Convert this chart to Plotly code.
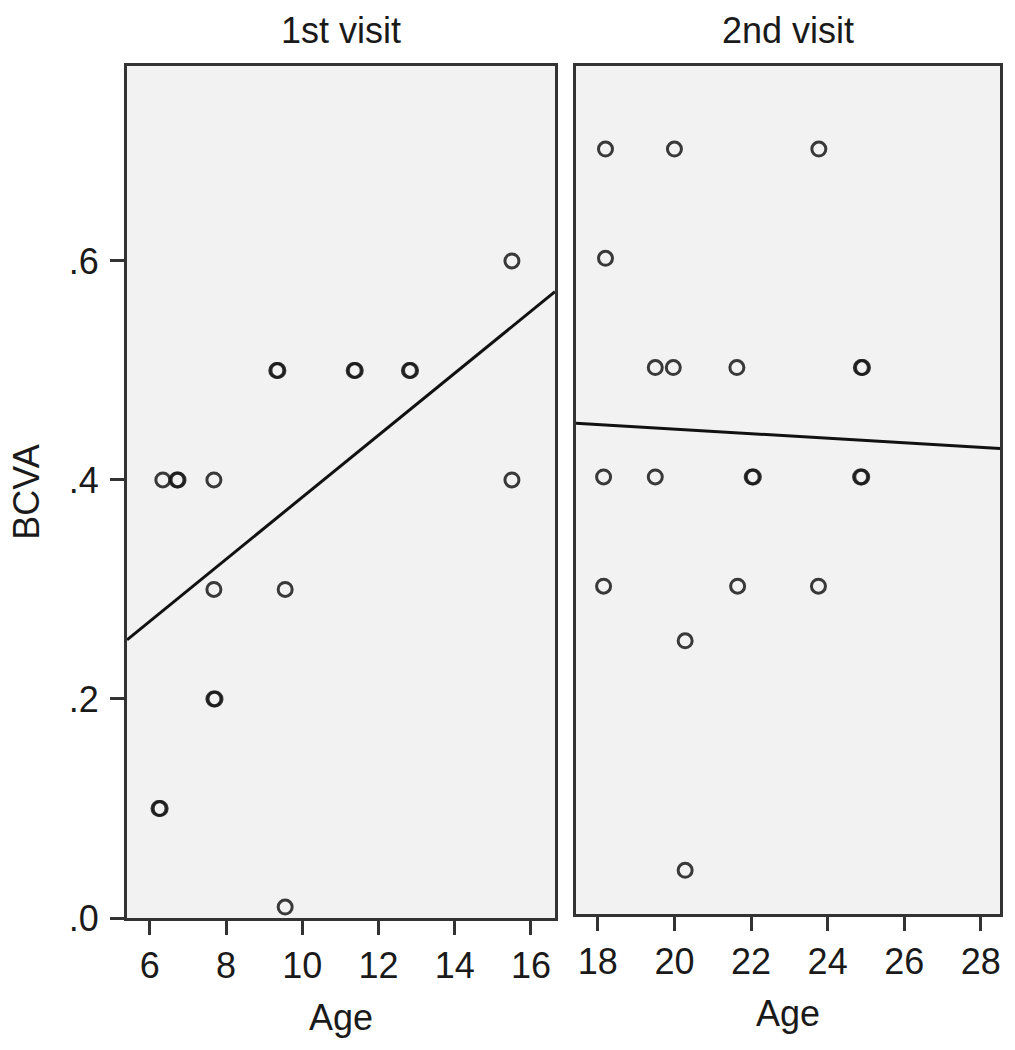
"""Scatter of BCVA against age at two visits, with fitted lines."""

import plotly.graph_objects as go

# 1st visit (duplicated points drawn twice, they show up darker)
visit1_age = [6.24, 6.27, 6.34, 6.71, 6.74, 7.68, 7.68, 7.68, 7.71,
              9.33, 9.36, 9.55, 9.55, 11.36, 11.39, 12.81, 12.84, 15.5, 15.5]
visit1_bcva = [0.10, 0.10, 0.40, 0.40, 0.40, 0.40, 0.30, 0.20, 0.20,
               0.50, 0.50, 0.30, 0.01, 0.50, 0.50, 0.50, 0.50, 0.60, 0.40]

# 2nd visit
visit2_age = [18.2, 20.0, 23.77, 18.2, 19.5, 19.97, 21.63, 24.88, 24.91,
              18.15, 19.5, 22.03, 22.06, 24.86, 24.89, 18.15, 21.65, 23.76,
              20.28, 20.28]
visit2_bcva = [0.70, 0.70, 0.70, 0.60, 0.50, 0.50, 0.50, 0.50, 0.50,
               0.40, 0.40, 0.40, 0.40, 0.40, 0.40, 0.30, 0.30, 0.30,
               0.25, 0.04]

# fit lines, end points
fit1_age = [5.4, 16.63]
fit1_bcva = [0.254, 0.572]
fit2_age = [17.43, 28.5]
fit2_bcva = [0.449, 0.426]

y_ticks = [0.0, 0.2, 0.4, 0.6]
y_tick_text = [".0", ".2", ".4", ".6"]
x1_ticks = [6, 8, 10, 12, 14, 16]
x2_ticks = [18, 20, 22, 24, 26, 28]

W, H = 1015, 1050
FONT = "Liberation Sans, Arial, sans-serif"
INK = "#1a1a1a"
FRAME = "#333333"

marker = dict(symbol="circle-open", size=14, color="rgba(25,25,25,0.85)",
              line=dict(width=3))

fig = go.Figure()
fig.add_trace(go.Scatter(x=visit1_age, y=visit1_bcva, mode="markers",
                         marker=marker, xaxis="x", yaxis="y",
                         hovertemplate="Age %{x}<br>BCVA %{y}<extra></extra>"))
fig.add_trace(go.Scatter(x=fit1_age, y=fit1_bcva, mode="lines",
                         line=dict(color="#111111", width=3),
                         xaxis="x", yaxis="y", hoverinfo="skip"))
fig.add_trace(go.Scatter(x=visit2_age, y=visit2_bcva, mode="markers",
                         marker=marker, xaxis="x2", yaxis="y2",
                         hovertemplate="Age %{x}<br>BCVA %{y}<extra></extra>"))
fig.add_trace(go.Scatter(x=fit2_age, y=fit2_bcva, mode="lines",
                         line=dict(color="#111111", width=3),
                         xaxis="x2", yaxis="y2", hoverinfo="skip"))

axis_common = dict(showline=True, linecolor=FRAME, linewidth=3, mirror=True,
                   showgrid=False, zeroline=False, ticks="outside",
                   ticklen=14, tickwidth=3, tickcolor=FRAME, automargin=False,
                   tickfont=dict(size=36, color=INK, family=FONT))

fig.update_layout(
    width=W, height=H, autosize=False,
    margin=dict(l=0, r=0, t=0, b=0),
    paper_bgcolor="white", plot_bgcolor="#f2f2f2",
    showlegend=False,
    font=dict(family=FONT, color=INK, size=36),
    xaxis=dict(axis_common, domain=[127 / W, 555 / W], range=[5.4, 16.63],
               tickvals=x1_ticks, anchor="y", ticklabelstandoff=0,
               title=dict(text="Age", font=dict(size=36), standoff=20)),
    yaxis=dict(axis_common, domain=[1 - 918 / H, 1 - 66 / H], range=[0, 0.778],
               tickvals=y_ticks, ticktext=y_tick_text, anchor="x",
               ticklabelstandoff=4,
               title=dict(text="BCVA", font=dict(size=36), standoff=19)),
    xaxis2=dict(axis_common, domain=[576 / W, 1000 / W], range=[17.43, 28.5],
                tickvals=x2_ticks, anchor="y2", ticklabelstandoff=0,
                title=dict(text="Age", font=dict(size=36), standoff=20)),
    yaxis2=dict(axis_common, domain=[1 - 914 / H, 1 - 66 / H], range=[0, 0.776],
                ticks="", showticklabels=False, anchor="x2"),
    annotations=[
        dict(text="1st visit", x=341 / W, y=1 - 30 / H, xref="paper", yref="paper",
             xanchor="center", yanchor="middle", showarrow=False,
             font=dict(size=36, color=INK, family=FONT)),
        dict(text="2nd visit", x=788 / W, y=1 - 30 / H, xref="paper", yref="paper",
             xanchor="center", yanchor="middle", showarrow=False,
             font=dict(size=36, color=INK, family=FONT)),
    ],
)

# drop the default body margin so the figure sits flush in the window
fig.write_html("out.html", config={"displayModeBar": False},
               post_script="document.body.style.margin='0';"
                           "document.body.style.overflow='hidden';")
